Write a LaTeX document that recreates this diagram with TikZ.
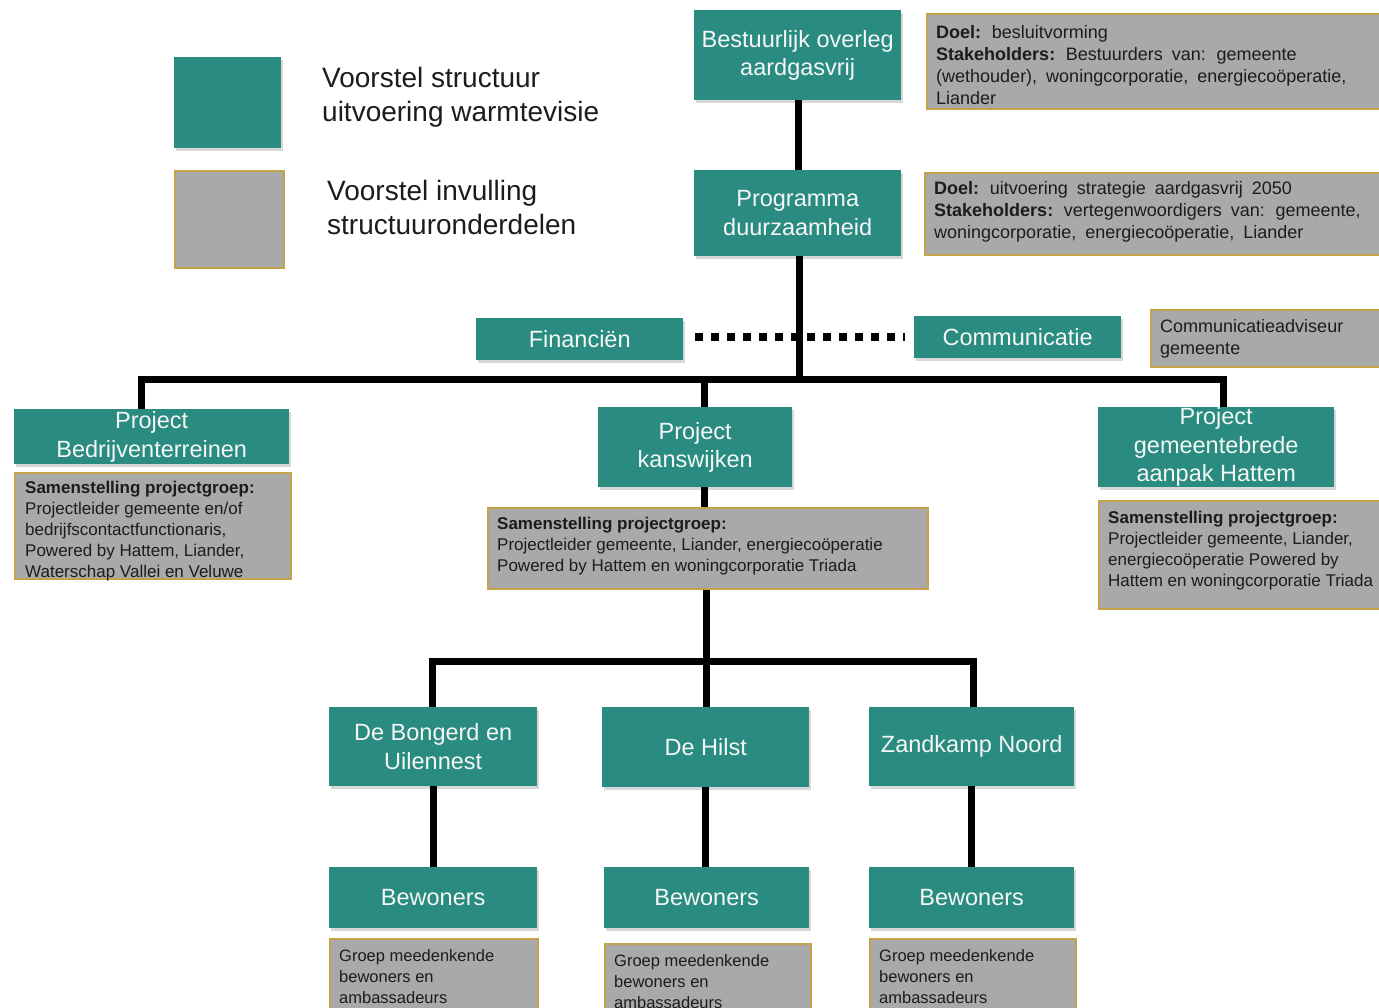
\documentclass[tikz,border=0pt]{standalone}
\usepackage{fontspec}
\setmainfont{Liberation Sans}
\usetikzlibrary{shadows}
\definecolor{tealc}{RGB}{42,139,128}
\definecolor{greyc}{RGB}{169,169,171}
\definecolor{goldc}{RGB}{196,162,72}
\definecolor{txtc}{RGB}{28,28,28}
\definecolor{wtxt}{RGB}{244,247,246}
\newcommand\myWideSpaces{\spaceskip 0.5em plus 0.1em\relax}
\begin{document}
\begin{tikzpicture}[x=1pt,y=-1pt,
  sz/.style 2 args={minimum width=#1pt, minimum height=#2pt},
  tealbox/.style={fill=tealc, draw=none, text=wtxt, align=center, inner xsep=2pt, inner ysep=0pt,
    anchor=north west, font=\fontsize{23.5}{28.5}\selectfont,
    drop shadow={shadow xshift=1.5pt, shadow yshift=-2.5pt, opacity=.3}},
  greybox/.style={fill=greyc, draw=goldc, line width=2.2pt, anchor=north west, inner sep=0pt},
  infotext/.style={text=txtc, align=left, anchor=west, inner sep=0pt, font=\fontsize{17}{21}\selectfont},
  toptext/.style={infotext, font=\fontsize{18}{22}\selectfont\myWideSpaces},
  legtext/.style={text=txtc, align=left, anchor=west, inner sep=0pt, font=\fontsize{28}{34}\selectfont},
  conn/.style={line width=7pt, black},
  dotconn/.style={line width=8pt, dash pattern=on 8pt off 8pt, black}]
\useasboundingbox (0,0) rectangle (1379,1008);
\fill[white] (0,0) rectangle (1379,1008);

% legend
\node[tealbox, sz={107}{91}] (legT) at (174,57) {};
\node[greybox, sz={109}{97}] (legG) at (174,170) {};
\node[legtext] (legTt) at (322,97) {Voorstel structuur\\uitvoering warmtevisie};
\node[legtext] (legGt) at (327,207) {Voorstel invulling\\structuuronderdelen};

% top level
\node[tealbox, sz={207}{90}] (best) at (694,10) {Bestuurlijk overleg\\aardgasvrij};
\node[tealbox, sz={207}{86}] (prog) at (694,170) {Programma\\duurzaamheid};
\node[greybox, sz={470}{95}] (i1) at (926,13) {};
\node[toptext] (i1t) at (936,65) {\textbf{Doel:} besluitvorming\\\textbf{Stakeholders:} Bestuurders van: gemeente\\(wethouder), woningcorporatie, energiecoöperatie,\\Liander};
\node[greybox, sz={470}{82}] (i2) at (924,172) {};
\node[toptext] (i2t) at (934,212) {\textbf{Doel:} uitvoering strategie aardgasvrij 2050\\\textbf{Stakeholders:} vertegenwoordigers van: gemeente,\\woningcorporatie, energiecoöperatie, Liander};

% side functions
\node[tealbox, sz={207}{42}] (fin) at (476,318) {Financiën};
\node[tealbox, sz={207}{42}] (comm) at (914,316) {Communicatie};
\node[greybox, sz={250}{57}] (icomm) at (1150,309) {};
\node[toptext] (icommt) at (1160,339) {Communicatieadviseur\\gemeente};

% projects
\node[tealbox, sz={275}{55}] (pbed) at (14,409) {Project\\Bedrijventerreinen};
\node[greybox, sz={276}{106}] (ibed) at (14,472) {};
\node[infotext] (ibedt) at (25,531) {\textbf{Samenstelling projectgroep:}\\Projectleider gemeente en/of\\bedrijfscontactfunctionaris,\\Powered by Hattem, Liander,\\Waterschap Vallei en Veluwe};

\node[tealbox, sz={194}{80}] (pkans) at (598,407) {Project\\kanswijken};
\node[greybox, sz={440}{81}] (ikans) at (487,507) {};
\node[infotext] (ikanst) at (497,546) {\textbf{Samenstelling projectgroep:}\\Projectleider gemeente, Liander, energiecoöperatie\\Powered by Hattem en woningcorporatie Triada};

\node[tealbox, sz={236}{80}] (pgem) at (1098,407) {Project\\gemeentebrede\\aanpak Hattem};
\node[greybox, sz={300}{108}] (igem) at (1098,500) {};
\node[infotext] (igemt) at (1108,551) {\textbf{Samenstelling projectgroep:}\\Projectleider gemeente, Liander,\\energiecoöperatie Powered by\\Hattem en woningcorporatie Triada};

% neighbourhoods
\node[tealbox, sz={208}{79}] (bong) at (329,707) {De Bongerd en\\Uilennest};
\node[tealbox, sz={207}{80}] (hilst) at (602,707) {De Hilst};
\node[tealbox, sz={205}{79}] (zand) at (869,707) {Zandkamp Noord};

\node[tealbox, sz={208}{61}] (bew1) at (329,867) {Bewoners};
\node[tealbox, sz={205}{61}] (bew2) at (604,867) {Bewoners};
\node[tealbox, sz={205}{61}] (bew3) at (869,867) {Bewoners};

\node[greybox, sz={208}{90}] (g1) at (329,938) {};
\node[greybox, sz={206}{90}] (g2) at (604,943) {};
\node[greybox, sz={206}{90}] (g3) at (869,938) {};
\node[infotext, font=\fontsize{16.5}{21}\selectfont] (g1t) at (339,977) {Groep meedenkende\\bewoners en\\ambassadeurs};
\node[infotext, font=\fontsize{16.5}{21}\selectfont] (g2t) at (614,982) {Groep meedenkende\\bewoners en\\ambassadeurs};
\node[infotext, font=\fontsize{16.5}{21}\selectfont] (g3t) at (879,977) {Groep meedenkende\\bewoners en\\ambassadeurs};

% connectors
\coordinate (busA) at (799,379);
\coordinate (busB) at (706,661);
\draw[conn] ([xshift=0.5pt]best.south) -- ([xshift=0.5pt]prog.north);
\draw[conn] (prog.south -| busA) -- (busA);
\draw[conn] ([xshift=-10pt]pbed.north) |- (busA) -| ([xshift=7pt]pgem.north);
\draw[conn] ([xshift=9pt]pkans.north |- busA) -- ([xshift=9pt]pkans.north);
\draw[conn] ([xshift=9pt]pkans.south) -- ([xshift=9pt]pkans.south |- ikans.north);
\draw[conn] (ikans.south -| busB) -- (busB);
\draw[conn] ([xshift=-1pt]bong.north) |- (busB) -| ([xshift=1.5pt]zand.north);
\draw[conn] (busB) -- (hilst.north -| busB);
\draw[conn] (bong.south) -- (bew1.north);
\draw[conn] (hilst.south) -- (hilst.south |- bew2.north);
\draw[conn] (zand.south) -- (bew3.north);
\draw[dotconn] ([xshift=12pt]fin.east |- comm.west) -- ([xshift=-9pt]comm.west);
\end{tikzpicture}
\end{document}
